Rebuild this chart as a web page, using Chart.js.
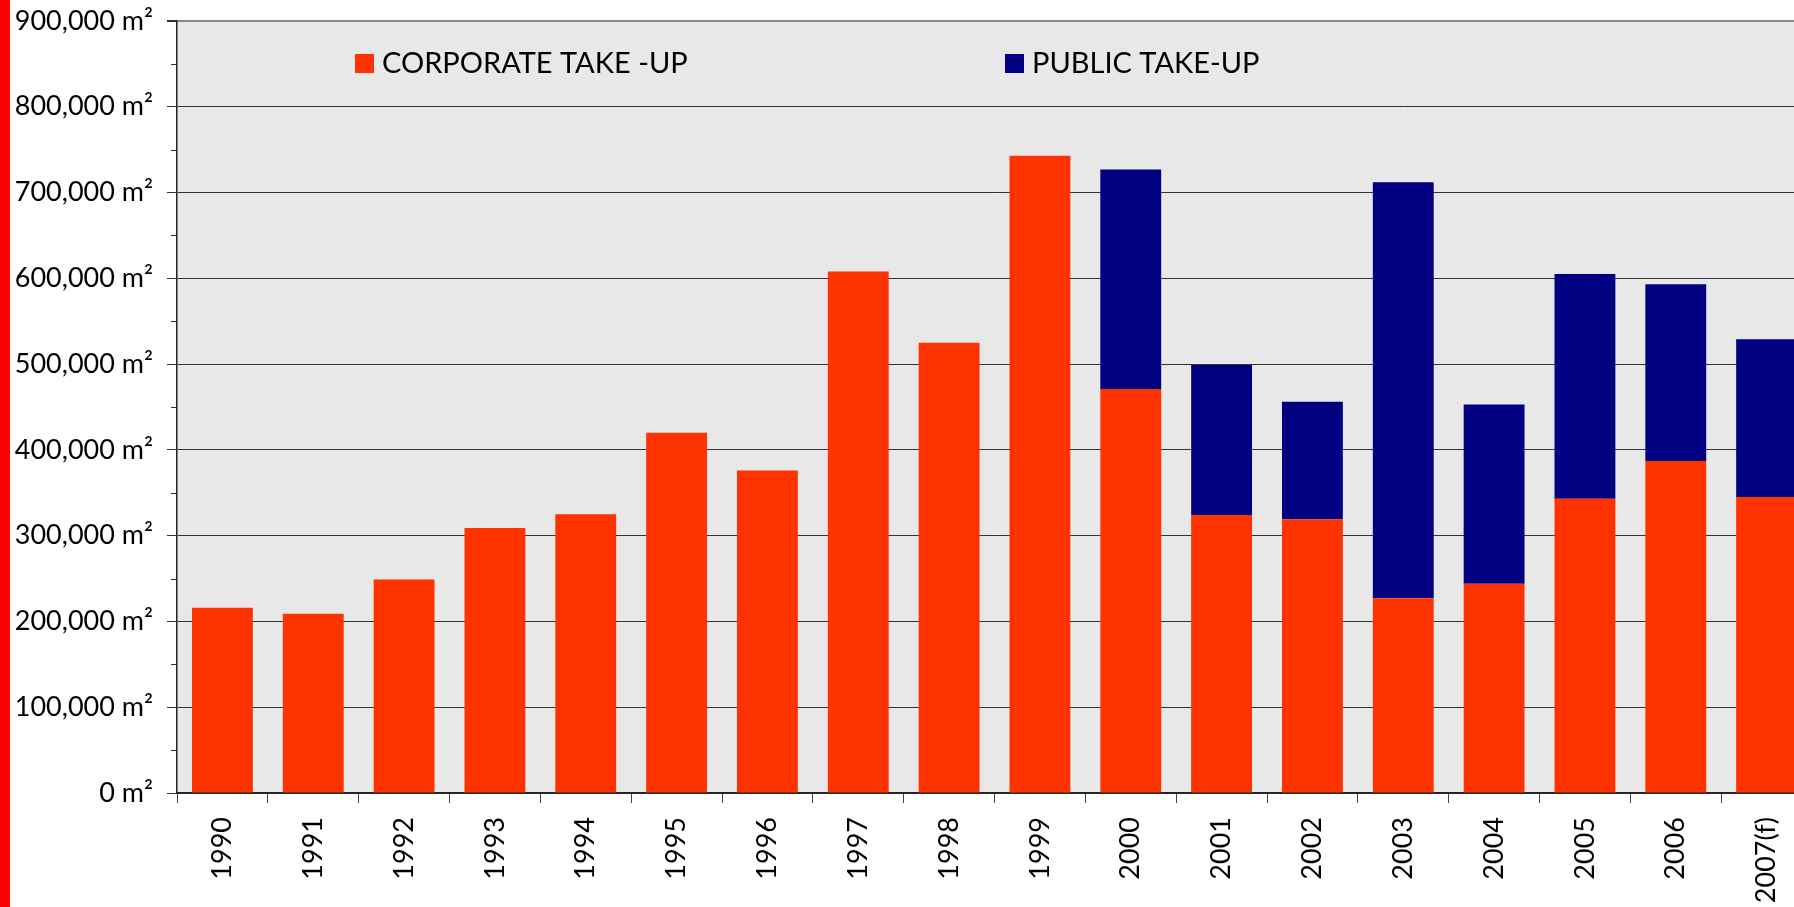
<!DOCTYPE html>
<html>
<head>
<meta charset="utf-8">
<script src="https://cdn.jsdelivr.net/npm/chart.js@4/dist/chart.umd.min.js"></script>
<style>
    html, body { margin: 0; padding: 0; background: #fff; overflow: hidden; width: 1794px; height: 907px; }
    #redbar { position: absolute; left: 0; top: 0; width: 10px; height: 907px; background: #ff0000; }
    #chart-takeup { position: absolute; left: 10px; top: 0; }
</style>
</head>
<body>
<div id="redbar"></div>
<canvas id="chart-takeup" width="1803" height="907"></canvas>
<script>
const years = ['1990', '1991', '1992', '1993', '1994', '1995', '1996', '1997', '1998', '1999',
    '2000', '2001', '2002', '2003', '2004', '2005', '2006', '2007(f)'];

const corporateTakeUp = [216000, 209000, 249000, 309000, 325000, 420000, 376000, 608000, 525000, 743000,
    471000, 324000, 319000, 227000, 244000, 343000, 387000, 345000];

const publicTakeUp = [0, 0, 0, 0, 0, 0, 0, 0, 0, 0,
    256000, 175000, 137000, 485000, 209000, 262000, 206000, 184000];

const labelFont = { family: 'Lato', size: 27 };

function formatArea(value) {
    return value.toLocaleString('en-US') + ' m\u00B2';
}

// grey plot background, minor ticks on the value axis, legend inside the plot
const plotDecor = {
    id: 'plotDecor',
    beforeDraw: function (chart) {
        const ctx = chart.ctx;
        const area = chart.chartArea;
        ctx.save();
        ctx.fillStyle = '#e8e8e8';
        ctx.fillRect(area.left, area.top, area.right - area.left, area.bottom - area.top);
        ctx.restore();
    },
    afterDraw: function (chart) {
        const ctx = chart.ctx;
        const area = chart.chartArea;
        const y = chart.scales.y;

        ctx.save();
        ctx.strokeStyle = '#333';
        ctx.lineWidth = 1;
        for (let v = 50000; v < 900000; v += 100000) {
            const py = Math.round(y.getPixelForValue(v)) + 0.5;
            ctx.beginPath();
            ctx.moveTo(area.left - 6, py);
            ctx.lineTo(area.left, py);
            ctx.stroke();
        }

        const offsets = [178, 828];
        ctx.font = '29px Lato';
        ctx.textBaseline = 'middle';
        ctx.textAlign = 'left';
        chart.data.datasets.forEach(function (ds, i) {
            const lx = area.left + offsets[i];
            const ly = area.top + 33;
            ctx.fillStyle = ds.backgroundColor;
            ctx.fillRect(lx, ly, 19, 19);
            ctx.fillStyle = '#000';
            ctx.fillText(ds.label, lx + 27, ly + 10);
        });
        ctx.restore();
    }
};

const config = {
    type: 'bar',
    data: {
        labels: years,
        datasets: [
            {
                label: 'CORPORATE TAKE -UP',
                data: corporateTakeUp,
                backgroundColor: '#ff3300',
                categoryPercentage: 1,
                barPercentage: 0.67
            },
            {
                label: 'PUBLIC TAKE-UP',
                data: publicTakeUp,
                backgroundColor: '#000080',
                categoryPercentage: 1,
                barPercentage: 0.67
            }
        ]
    },
    options: {
        responsive: false,
        animation: false,
        layout: {
            padding: { top: 21, right: 0, left: 0, bottom: 0 }
        },
        plugins: {
            legend: { display: false },
            tooltip: { enabled: false }
        },
        scales: {
            x: {
                stacked: true,
                grid: {
                    offset: true,
                    drawOnChartArea: false,
                    tickLength: 10,
                    tickColor: '#444'
                },
                border: { color: '#222', width: 1.5 },
                ticks: {
                    color: '#000',
                    font: labelFont,
                    minRotation: 90,
                    maxRotation: 90,
                    padding: 14,
                    autoSkip: false
                },
                afterFit: function (scale) {
                    scale.height = 114;
                }
            },
            y: {
                stacked: true,
                min: 0,
                max: 900000,
                grid: {
                    color: function (c) {
                        return c.tick && c.tick.value === 900000 ? '#888' : '#333';
                    },
                    lineWidth: function (c) {
                        return c.tick && c.tick.value === 900000 ? 2 : 1;
                    },
                    tickLength: 10,
                    tickColor: '#333'
                },
                border: { color: '#222', width: 1.5 },
                ticks: {
                    stepSize: 100000,
                    color: '#000',
                    font: labelFont,
                    padding: 14,
                    callback: function (value) {
                        return formatArea(value);
                    }
                },
                afterFit: function (scale) {
                    scale.width = 167;
                    scale.paddingTop = 0;
                    scale.paddingBottom = 0;
                }
            }
        }
    },
    plugins: [plotDecor]
};

const chart = new Chart(document.getElementById('chart-takeup'), config);
</script>
</body>
</html>
